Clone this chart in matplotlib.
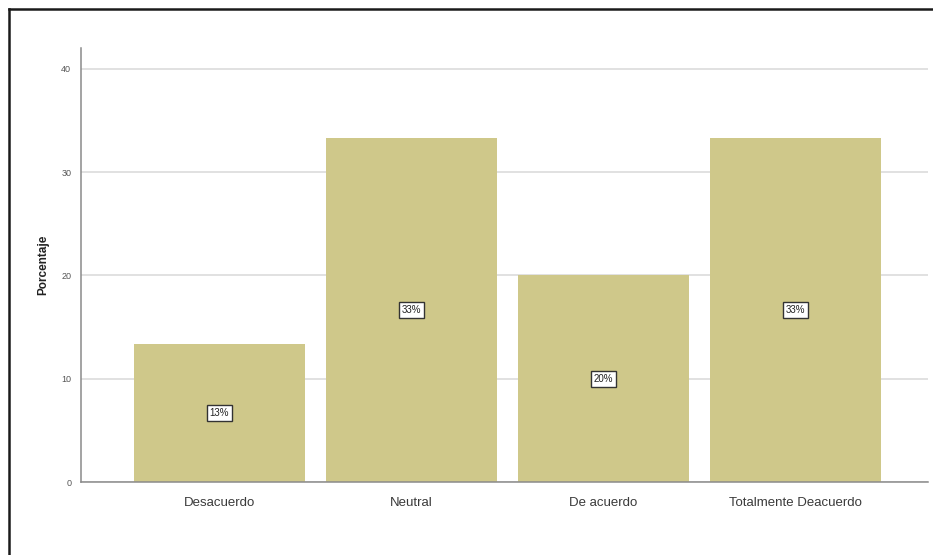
import matplotlib
matplotlib.use("Agg")
import matplotlib.pyplot as plt
from matplotlib.lines import Line2D

plt.rcParams['font.family'] = ['Liberation Sans', 'DejaVu Sans']

# Response distribution (percent of respondents)
categories = ['Desacuerdo', 'Neutral', 'De acuerdo', 'Totalmente Deacuerdo']
percentages = [13.33, 33.33, 20.0, 33.33]
bar_labels = ['13%', '33%', '20%', '33%']
y_ticks = [0, 10, 20, 30, 40]

fig = plt.figure(figsize=(9.33, 5.55), dpi=100)
ax = fig.add_axes([0.0868, 0.1315, 0.9078, 0.782])

x = range(len(categories))
ax.bar(x, percentages, width=0.89, color='#cfc88a', zorder=2)

for xi, val, lab in zip(x, percentages, bar_labels):
    ax.text(xi, val / 2, lab, ha='center', va='center', fontsize=7, color='#222222',
            bbox=dict(boxstyle='square,pad=0.3', facecolor='white', edgecolor='#333333', linewidth=1.0),
            zorder=3)

ax.set_xlim(-0.72, 3.69)
ax.set_ylim(0, 42)
ax.set_yticks(y_ticks)
ax.set_yticklabels([str(t) for t in y_ticks], fontsize=6.5, color='#555555')
ax.set_xticks(list(x))
ax.set_xticklabels(categories, fontsize=9.5, color='#3a3a3a')
ax.tick_params(axis='x', length=0, pad=11)
ax.tick_params(axis='y', length=0, pad=7)

ax.grid(True, axis='y', color='#dcdcdc', linewidth=1.2, zorder=0)
for side in ['top', 'right']:
    ax.spines[side].set_visible(False)
ax.spines['left'].set_color('#8a8a8a')
ax.spines['bottom'].set_color('#8a8a8a')
ax.spines['left'].set_linewidth(1.1)
ax.spines['bottom'].set_linewidth(1.1)

ax.set_ylabel('Porcentaje', fontsize=8.5, fontweight='bold', color='#222222', labelpad=9)

# outer frame (left and top edges)
fig.add_artist(Line2D([8.5 / 933, 8.5 / 933], [0, 1 - 8.5 / 555], transform=fig.transFigure,
                      color='#1a1a1a', linewidth=1.8))
fig.add_artist(Line2D([8.5 / 933, 1], [1 - 8.5 / 555, 1 - 8.5 / 555], transform=fig.transFigure,
                      color='#1a1a1a', linewidth=1.8))

fig.savefig('out.png', dpi=100)
